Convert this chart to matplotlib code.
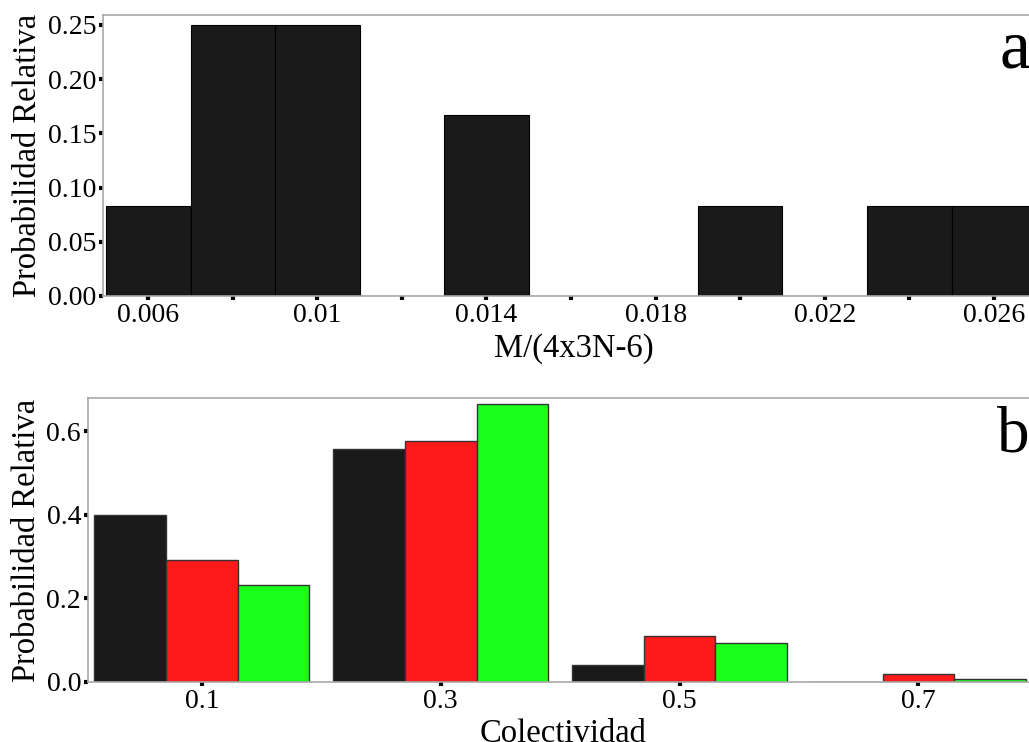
import matplotlib
matplotlib.use("Agg")
import matplotlib.pyplot as plt
import numpy as np

# ---- data ----
bin_left_a = [0.005, 0.007, 0.009, 0.011, 0.013, 0.015, 0.017, 0.019, 0.021, 0.023, 0.025]
prob_a = [0.0833, 0.25, 0.25, 0.0, 0.1667, 0.0, 0.0, 0.0833, 0.0, 0.0833, 0.0833]
bin_width_a = 0.002
xticks_a = [0.006, 0.01, 0.014, 0.018, 0.022, 0.026]
xticklabels_a = ["0.006", "0.01", "0.014", "0.018", "0.022", "0.026"]
yticks_a = [0.0, 0.05, 0.10, 0.15, 0.20, 0.25]
yticklabels_a = ["0.00", "0.05", "0.10", "0.15", "0.20", "0.25"]

categories_b = [0.1, 0.3, 0.5, 0.7]
series_black = [0.40, 0.557, 0.041, 0.0]
series_red = [0.292, 0.576, 0.110, 0.019]
series_green = [0.231, 0.665, 0.093, 0.007]
yticks_b = [0.0, 0.2, 0.4, 0.6]
yticklabels_b = ["0.0", "0.2", "0.4", "0.6"]

plt.rcParams['font.family'] = ['Liberation Serif', 'DejaVu Serif']

fig = plt.figure(figsize=(10.29, 7.42), dpi=100)

spine_col = '#a8a8a8'
fs_tick = 20
fs_lab = 23.5

def style(ax):
    for s in ax.spines.values():
        s.set_color(spine_col)
        s.set_linewidth(1.2)
    ax.tick_params(axis='both', direction='out', length=3, width=3, color='black',
                   labelsize=fs_tick, pad=2)

# ---- panel a ----
axa = fig.add_axes([0.1001, 0.6011, 0.915, 0.3787])
axa.bar(bin_left_a, prob_a, width=bin_width_a, align='edge', color='#1a1a1a',
        edgecolor='#000000', linewidth=0.8)
axa.set_xlim(0.00493, 0.0272)
axa.set_ylim(0, 0.2592)
axa.set_xticks(np.arange(0.006, 0.0265, 0.002), minor=True)
axa.set_xticks(xticks_a)
axa.set_xticklabels(xticklabels_a)
axa.set_yticks(yticks_a)
axa.set_yticklabels(yticklabels_a)
style(axa)
axa.tick_params(axis='x', which='minor', direction='out', length=3, width=3, color='black')
axa.set_xlabel("M/(4x3N-6)", fontsize=fs_lab, labelpad=4)
axa.set_ylabel("Probabilidad Relativa", fontsize=fs_lab)
axa.yaxis.set_label_coords(-0.064, 0.5)
fig.text(1000/1029, 1 - 67/742, "a", fontsize=50, ha='left', va='baseline')

# ---- panel b ----
axb = fig.add_axes([0.0855, 0.0809, 0.923, 0.3827])
w = 0.06
x = np.array(categories_b)
axb.bar(x - w, series_black, width=w, color='#1a1a1a', edgecolor='#333333', linewidth=1.0)
axb.bar(x, series_red, width=w, color='#ff1a1a', edgecolor='#333333', linewidth=1.0)
axb.bar(x + w, series_green, width=w, color='#1aff1a', edgecolor='#333333', linewidth=1.0)
axb.set_xlim(0.0046, 0.80)
axb.set_ylim(0, 0.679)
axb.set_xticks(categories_b)
axb.set_xticklabels([str(c) for c in categories_b])
axb.set_yticks(yticks_b)
axb.set_yticklabels(yticklabels_b)
style(axb)
axb.set_xlabel("Colectividad", fontsize=fs_lab, labelpad=3)
axb.set_ylabel("Probabilidad Relativa", fontsize=fs_lab)
axb.yaxis.set_label_coords(-0.048, 0.5)
fig.text(997/1029, 1 - 452/742, "b", fontsize=47, ha='left', va='baseline')

fig.savefig("out.png", dpi=100)
